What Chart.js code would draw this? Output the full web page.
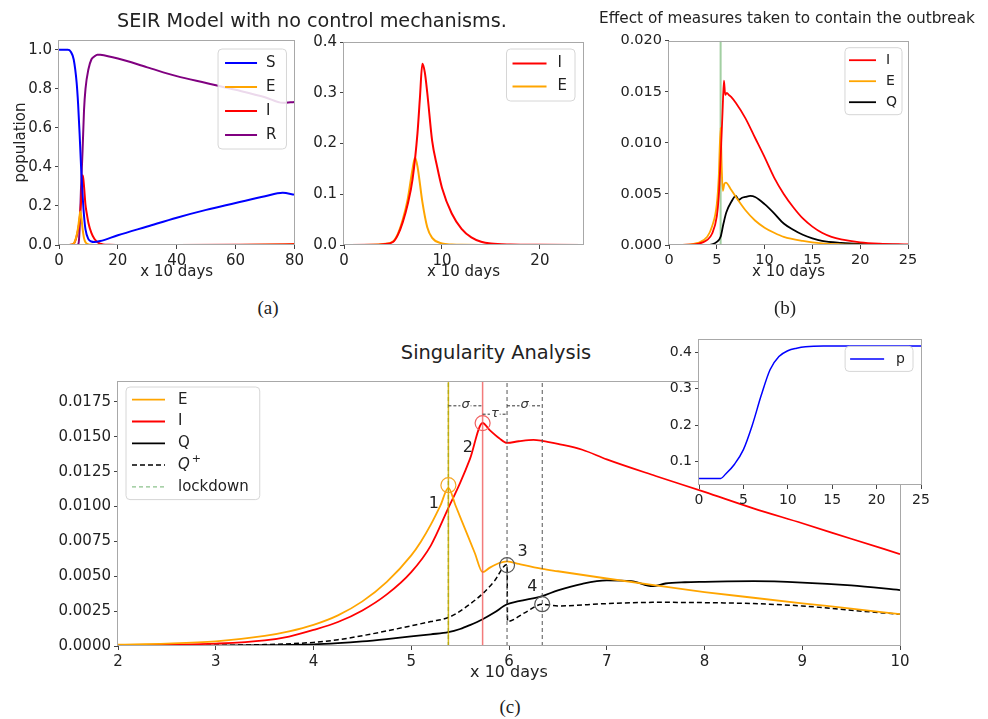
<!DOCTYPE html>
<html>
<head>
<meta charset="utf-8">
<title>SEIR figures</title>
<script src="https://cdn.jsdelivr.net/npm/chart.js@4.4.0/dist/chart.umd.min.js"></script>
<style>
  body { margin: 0; background: #fff; }
  #fig { position: relative; width: 988px; height: 719px; overflow: hidden; font-family: "DejaVu Sans", sans-serif; color: #222; }
  #fig canvas { position: absolute; }
  .txt { position: absolute; transform: translate(-50%, -50%); white-space: nowrap; }
  .cap { font-family: "Liberation Serif", "DejaVu Serif", serif; font-size: 19px; }
</style>
</head>
<body>
<div id="fig">
  <canvas id="cA1"></canvas>
  <canvas id="cA2"></canvas>
  <canvas id="cB"></canvas>
  <canvas id="cC"></canvas>
  <canvas id="cP"></canvas>
  <div class="txt" style="left:312px; top:20px; font-size:19.2px;">SEIR Model with no control mechanisms.</div>
  <div class="txt" style="left:787px; top:18px; font-size:15.3px;">Effect of measures taken to contain the outbreak</div>
  <div class="txt" style="left:496px; top:352px; font-size:19.4px;">Singularity Analysis</div>
  <div class="txt cap" style="left:268px; top:308px;">(a)</div>
  <div class="txt cap" style="left:785px; top:308px;">(b)</div>
  <div class="txt cap" style="left:510px; top:707px;">(c)</div>
</div>
<script>
// ---- (a) SEIR model, no control (x in units of 10 days)
var aS_x = [0, 3, 4, 5, 6, 6.5, 7, 7.5, 8, 8.5, 9, 10, 11, 12, 14, 20, 30, 40, 50, 60, 70, 76, 80];
var aS_y = [1.0, 1.0, 0.99, 0.95, 0.83, 0.72, 0.57, 0.4, 0.26, 0.15, 0.08, 0.03, 0.018, 0.015, 0.02, 0.05, 0.095, 0.14, 0.18, 0.215, 0.25, 0.267, 0.258];
var aR_x = [0, 5, 6, 6.6, 7, 7.5, 8, 8.5, 9, 10, 11, 12, 13, 14, 20, 30, 40, 50, 60, 70, 76, 80];
var aR_y = [0, 0, 0, 0.005, 0.08, 0.3, 0.48, 0.69, 0.8, 0.9, 0.95, 0.965, 0.975, 0.974, 0.955, 0.91, 0.865, 0.83, 0.795, 0.757, 0.728, 0.733];
var aI_x = [0, 3, 4, 5, 5.5, 6, 6.5, 7, 7.5, 7.75, 8, 8.25, 8.5, 9, 9.5, 10, 11, 12, 13, 14, 15, 17, 20, 25, 40, 60, 70, 80];
var aI_y = [0, 0.0003, 0.0015, 0.006, 0.02, 0.045, 0.08, 0.13, 0.22, 0.29, 0.357, 0.34, 0.3, 0.205, 0.155, 0.113, 0.062, 0.032, 0.015, 0.0065, 0.003, 0.001, 0.0003, 0.0001, 0.0002, 0.001, 0.002, 0.005];
var aE_x = [0, 3, 4, 5, 5.5, 6, 6.5, 7, 7.25, 7.5, 8, 8.5, 9, 10, 11, 12, 15, 25, 60, 80];
var aE_y = [0, 0.0004, 0.002, 0.007, 0.022, 0.05, 0.09, 0.15, 0.172, 0.155, 0.085, 0.035, 0.014, 0.003, 0.001, 0.0003, 0, 0, 0.0003, 0.001];

// ---- (b) with containment measures
var bI_x = [0, 2, 3, 4, 4.5, 5, 5.2, 5.4, 5.6, 5.75, 5.88, 6.05, 6.25, 6.5, 7, 8, 9, 10, 11, 12, 13, 14, 15, 16, 17, 18, 20, 22, 25];
var bI_y = [0, 0.00003, 0.0001, 0.0005, 0.0011, 0.0028, 0.0047, 0.0085, 0.013, 0.0161, 0.0147, 0.0149, 0.0147, 0.0145, 0.0139, 0.0124, 0.0105, 0.0086, 0.0066, 0.005, 0.0037, 0.0026, 0.0018, 0.0012, 0.0008, 0.00055, 0.00026, 0.00013, 0.00005];
var bE_x = [0, 2, 3, 4, 4.5, 5, 5.2, 5.4, 5.52, 5.63, 5.8, 5.95, 6.5, 7, 8, 9, 10, 11, 12, 14, 16, 18, 20, 25];
var bE_y = [0, 0.00003, 0.0002, 0.0008, 0.0018, 0.004, 0.0066, 0.0115, 0.0075, 0.0053, 0.006, 0.0061, 0.0054, 0.0047, 0.0034, 0.0024, 0.0017, 0.0012, 0.0008, 0.0004, 0.00016, 0.00007, 0.00003, 0];
var bQ_x = [0, 4, 4.5, 5, 5.4, 5.7, 6, 6.5, 7, 7.3, 7.6, 8, 8.5, 9, 10, 11, 12, 13, 14, 15, 16, 18, 20, 25];
var bQ_y = [0, 0, 0.00006, 0.0003, 0.0008, 0.0021, 0.0032, 0.0042, 0.0048, 0.0044, 0.0046, 0.0047, 0.0048, 0.0047, 0.004, 0.0031, 0.0021, 0.0015, 0.001, 0.00065, 0.0004, 0.0002, 0.0001, 0];
var bLock = 5.4;

// ---- (c) singularity analysis
var cE_x = [2, 2.5, 3, 3.5, 3.75, 4, 4.25, 4.5, 4.75, 5, 5.1, 5.2, 5.3, 5.38, 5.45, 5.55, 5.65, 5.73, 5.8, 5.9, 5.98, 6.1, 6.34, 6.5, 7, 7.5, 8, 8.5, 9, 9.5, 10];
var cE_y = [0.0001, 0.00017, 0.00033, 0.00072, 0.00105, 0.00152, 0.0022, 0.0032, 0.0046, 0.0065, 0.0075, 0.0087, 0.0101, 0.01134, 0.01013, 0.0084, 0.00667, 0.00529, 0.0056, 0.00595, 0.00607, 0.00588, 0.00553, 0.00536, 0.00484, 0.00434, 0.00387, 0.00346, 0.00306, 0.00268, 0.00228];
var cI_x = [2, 2.5, 3, 3.5, 3.75, 4, 4.25, 4.5, 4.75, 5, 5.2, 5.38, 5.5, 5.6, 5.73, 5.8, 5.9, 5.98, 6.1, 6.25, 6.34, 6.5, 6.75, 7, 7.5, 8, 8.5, 9, 9.5, 10];
var cI_y = [0.00005, 0.00009, 0.00017, 0.0004, 0.00068, 0.00115, 0.00172, 0.00255, 0.0037, 0.0053, 0.0072, 0.0099, 0.0117, 0.0134, 0.01599, 0.0155, 0.0149, 0.01456, 0.01468, 0.01478, 0.01471, 0.01449, 0.01407, 0.01338, 0.01219, 0.01105, 0.00987, 0.0088, 0.00769, 0.00659];
var cQ_x = [2, 3, 3.5, 4, 4.25, 4.5, 4.75, 5, 5.2, 5.38, 5.5, 5.6, 5.73, 5.85, 5.98, 6.1, 6.34, 6.5, 6.75, 7, 7.25, 7.47, 7.6, 7.8, 8, 8.5, 9, 9.5, 10];
var cQ_y = [0.00002, 0.00003, 0.00006, 0.00011, 0.0002, 0.00033, 0.0005, 0.00069, 0.00084, 0.00099, 0.00122, 0.0015, 0.00192, 0.0024, 0.00299, 0.00322, 0.00358, 0.00399, 0.00446, 0.0047, 0.00465, 0.00429, 0.00448, 0.00457, 0.0046, 0.00465, 0.00455, 0.00434, 0.00401];
var cQp_x = [2, 3, 3.5, 4, 4.25, 4.5, 4.75, 5, 5.2, 5.38, 5.5, 5.6, 5.73, 5.85, 5.98, 5.985, 6.16, 6.34, 6.5, 7, 7.5, 8, 8.5, 9, 9.5, 10];
var cQp_y = [0.00002, 0.00005, 0.0001, 0.00026, 0.00045, 0.00074, 0.00108, 0.00145, 0.00175, 0.00204, 0.0025, 0.003, 0.00375, 0.00465, 0.00584, 0.00176, 0.00238, 0.00299, 0.00287, 0.00304, 0.00313, 0.00311, 0.00304, 0.00287, 0.00256, 0.00228];
var cLock = 5.38, cRed = 5.73, cDash = [5.98, 6.34];
var cSpans = [[5.38, 5.73, 0.01722, 'σ'], [5.73, 5.98, 0.01662, 'τ'], [5.98, 6.34, 0.01722, 'σ']];
var cRings = [[5.38, 0.01153, '#f5a623'], [5.73, 0.01598, '#f06060'], [5.98, 0.0058, '#555'], [6.34, 0.003, '#555']];
var cNums = [[5.23, 0.0102, '1'], [5.58, 0.01418, '2'], [6.14, 0.00678, '3'], [6.24, 0.00422, '4']];

// ---- inset: p
var pX = [0, 2.44, 3, 4, 5, 6, 7, 8, 9, 10, 11, 12, 14, 25];
var pY = [0.054, 0.054, 0.066, 0.093, 0.133, 0.2, 0.281, 0.352, 0.388, 0.404, 0.411, 0.415, 0.417, 0.417];

// ticks
var aTicksY1 = [0, 0.2, 0.4, 0.6, 0.8, 1.0];
var aTicksX1 = [0, 20, 40, 60, 80];
var aTicksY2 = [0, 0.1, 0.2, 0.3, 0.4];
var aTicksX2 = [0, 10, 20];
var bTicksY = [0, 0.005, 0.01, 0.015, 0.02];
var bTicksX = [0, 5, 10, 15, 20, 25];
var cTicksY = [0, 0.0025, 0.005, 0.0075, 0.01, 0.0125, 0.015, 0.0175];
var cTicksX = [2, 3, 4, 5, 6, 7, 8, 9, 10];
var pTicksY = [0.1, 0.2, 0.3, 0.4];
var pTicksX = [0, 5, 10, 15, 20, 25];

Chart.defaults.font.family = '"DejaVu Sans", sans-serif';
Chart.defaults.color = '#222';

function pts(xs, ys) {
  return xs.map(function (x, i) { return {x: x, y: ys[i]}; });
}

function line(label, xs, ys, color, w, extra) {
  return Object.assign({
    label: label, data: pts(xs, ys), borderColor: color, backgroundColor: color,
    borderWidth: w, pointRadius: 0, fill: false, cubicInterpolationMode: 'monotone'
  }, extra || {});
}

// vertical marker line, not shown in legend
function vline(x, y0, y1, color, w, extra) {
  return Object.assign({
    label: '', data: [{x: x, y: y0}, {x: x, y: y1}], borderColor: color,
    borderWidth: w, pointRadius: 0, fill: false, tension: 0, noLegend: true
  }, extra || {});
}

// white plot background (inset) and grey frame
var framePlugin = {
  id: 'frame',
  beforeDraw: function (chart, args, o) {
    if (!o.fill) return;
    var a = chart.chartArea, ctx = chart.ctx;
    ctx.save();
    ctx.fillStyle = '#fff';
    ctx.fillRect(a.left, a.top, a.right - a.left, a.bottom - a.top);
    ctx.restore();
  },
  afterDatasetsDraw: function (chart) {
    var a = chart.chartArea, ctx = chart.ctx;
    ctx.save();
    ctx.strokeStyle = '#a8a8a8';
    ctx.lineWidth = 1;
    ctx.strokeRect(Math.round(a.left) - 0.5, Math.round(a.top) + 0.5, Math.round(a.right - a.left) + 1, Math.round(a.bottom - a.top) - 1);
    ctx.restore();
  }
};

// matplotlib-like legend box inside the axes
var legendPlugin = {
  id: 'boxLegend',
  afterDraw: function (chart, args, o) {
    if (!o.show) return;
    var ctx = chart.ctx, a = chart.chartArea;
    var items = chart.data.datasets.filter(function (d) { return !d.noLegend; });
    ctx.save();
    ctx.font = o.fs + 'px "DejaVu Sans"';
    var tw = 0;
    items.forEach(function (d) { tw = Math.max(tw, ctx.measureText(d.label).width); });
    var w = o.padL + o.sample + o.gap + tw + o.padR;
    var h = o.padT * 2 + items.length * o.row;
    var x0 = o.left ? a.left + o.mx : a.right - o.mx - w;
    var y0 = a.top + o.my, r = 4;
    ctx.beginPath();
    ctx.moveTo(x0 + r, y0);
    ctx.arcTo(x0 + w, y0, x0 + w, y0 + h, r);
    ctx.arcTo(x0 + w, y0 + h, x0, y0 + h, r);
    ctx.arcTo(x0, y0 + h, x0, y0, r);
    ctx.arcTo(x0, y0, x0 + w, y0, r);
    ctx.closePath();
    ctx.fillStyle = 'rgba(255,255,255,0.85)';
    ctx.fill();
    ctx.strokeStyle = '#d6d6d6';
    ctx.lineWidth = 1;
    ctx.stroke();
    items.forEach(function (d, i) {
      var cy = y0 + o.padT + o.row * (i + 0.5);
      var lx = x0 + o.padL;
      ctx.strokeStyle = d.legendColor || d.borderColor;
      ctx.lineWidth = d.borderWidth;
      ctx.setLineDash(d.borderDash || []);
      ctx.beginPath();
      ctx.moveTo(lx, cy);
      ctx.lineTo(lx + o.sample, cy);
      ctx.stroke();
      ctx.setLineDash([]);
      ctx.fillStyle = '#222';
      ctx.textBaseline = 'middle';
      var tx = lx + o.sample + o.gap;
      if (d.label === 'Q+') {
        ctx.font = 'italic ' + o.fs + 'px "DejaVu Sans"';
        ctx.fillText('Q', tx, cy);
        var qw = ctx.measureText('Q').width;
        ctx.font = Math.round(o.fs * 0.7) + 'px "DejaVu Sans"';
        ctx.fillText('+', tx + qw + 2, cy - 6);
        ctx.font = o.fs + 'px "DejaVu Sans"';
      } else {
        ctx.fillText(d.label, tx, cy);
      }
    });
    ctx.restore();
  }
};

// sigma / tau spans, rings and numbers of panel (c)
var annotPlugin = {
  id: 'annot',
  afterDatasetsDraw: function (chart) {
    var xs = chart.scales.x, ys = chart.scales.y, ctx = chart.ctx;
    ctx.save();
    cSpans.forEach(function (s) {
      var x0 = xs.getPixelForValue(s[0]), x1 = xs.getPixelForValue(s[1]), y = ys.getPixelForValue(s[2]);
      ctx.strokeStyle = '#333';
      ctx.lineWidth = 1;
      ctx.setLineDash([3, 2]);
      ctx.beginPath();
      ctx.moveTo(x0, y);
      ctx.lineTo(x1, y);
      ctx.stroke();
      ctx.setLineDash([]);
      ctx.font = 'italic 13px "DejaVu Sans"';
      var tw = ctx.measureText(s[3]).width, mx = (x0 + x1) / 2;
      ctx.fillStyle = '#fff';
      ctx.fillRect(mx - tw / 2 - 1, y - 6, tw + 2, 11);
      ctx.fillStyle = '#333';
      ctx.textAlign = 'center';
      ctx.textBaseline = 'middle';
      ctx.fillText(s[3], mx, y - 1);
    });
    cRings.forEach(function (c) {
      ctx.strokeStyle = c[2];
      ctx.lineWidth = 1.2;
      ctx.beginPath();
      ctx.arc(xs.getPixelForValue(c[0]), ys.getPixelForValue(c[1]), 7.5, 0, Math.PI * 2);
      ctx.stroke();
    });
    ctx.font = '16px "DejaVu Sans"';
    ctx.fillStyle = '#222';
    ctx.textAlign = 'center';
    ctx.textBaseline = 'middle';
    cNums.forEach(function (n) {
      ctx.fillText(n[2], xs.getPixelForValue(n[0]), ys.getPixelForValue(n[1]));
    });
    ctx.restore();
  }
};

function axis(a, horiz, size) {
  return {
    type: 'linear', min: a.min, max: a.max,
    afterBuildTicks: function (s) { s.ticks = a.ticks.map(function (v) { return {value: v}; }); },
    afterFit: function (s) { if (horiz) s.height = size; else s.width = size; },
    grid: {drawOnChartArea: false, drawTicks: true, tickLength: 4, tickColor: '#444'},
    border: {display: false},
    ticks: {
      font: {size: a.fs}, color: '#222', padding: 3, maxRotation: 0, autoSkip: false,
      callback: function (v) { return v.toFixed(a.dec); }
    },
    title: a.title ? {display: true, text: a.title, font: {size: a.tfs}, color: '#222', padding: a.tpad} : {display: false}
  };
}

// box = plot area in page pixels
function panel(id, box, cfg) {
  var cv = document.getElementById(id);
  var pt = cfg.pt, pr = cfg.pr;
  cv.width = box.r - box.l + cfg.yw + pr;
  cv.height = box.b - box.t + pt + cfg.xh;
  cv.style.left = (box.l - cfg.yw) + 'px';
  cv.style.top = (box.t - pt) + 'px';
  return new Chart(cv, {
    type: 'line',
    data: {datasets: cfg.datasets},
    options: {
      responsive: false, animation: false, devicePixelRatio: 1,
      layout: {padding: {top: pt, right: pr, left: 0, bottom: 0}},
      plugins: {
        legend: {display: false}, tooltip: {enabled: false},
        boxLegend: cfg.legend, frame: {fill: !!cfg.fill}
      },
      scales: {x: axis(cfg.x, true, cfg.xh), y: axis(cfg.y, false, cfg.yw)}
    },
    plugins: [framePlugin, legendPlugin].concat(cfg.extra || [])
  });
}

// (a) left
panel('cA1', {l: 59, t: 38, r: 297, b: 245}, {
  yw: 59, xh: 37, pt: 10, pr: 10,
  x: {min: 0, max: 80, ticks: aTicksX1, dec: 0, fs: 15, title: 'x 10 days', tfs: 15, tpad: {top: 0, bottom: 1}},
  y: {min: 0, max: 1.05, ticks: aTicksY1, dec: 1, fs: 15, title: 'population', tfs: 15, tpad: {top: 12, bottom: 0}},
  datasets: [
    line('S', aS_x, aS_y, '#0000ff', 2),
    line('E', aE_x, aE_y, '#ffa500', 2),
    line('I', aI_x, aI_y, '#ff0000', 2),
    line('R', aR_x, aR_y, '#800080', 2)
  ],
  legend: {show: true, fs: 15, row: 24, padT: 2, padL: 7, sample: 32, gap: 9, padR: 10, mx: 8, my: 9}
});

// (a) right
panel('cA2', {l: 344, t: 40, r: 583, b: 245}, {
  yw: 40, xh: 37, pt: 10, pr: 10,
  x: {min: 0, max: 24.4, ticks: aTicksX2, dec: 0, fs: 15, title: 'x 10 days', tfs: 15, tpad: {top: 0, bottom: 1}},
  y: {min: 0, max: 0.4, ticks: aTicksY2, dec: 1, fs: 15},
  datasets: [
    line('I', aI_x, aI_y, '#ff0000', 2),
    line('E', aE_x, aE_y, '#ffa500', 2)
  ],
  legend: {show: true, fs: 15, row: 23, padT: 3, padL: 6, sample: 34, gap: 11, padR: 8, mx: 8, my: 7}
});

// (b)
panel('cB', {l: 669, t: 39, r: 908, b: 245}, {
  yw: 55, xh: 37, pt: 10, pr: 14,
  x: {min: 0, max: 25, ticks: bTicksX, dec: 0, fs: 14.5, title: 'x 10 days', tfs: 15, tpad: {top: 0, bottom: 1}},
  y: {min: 0, max: 0.02, ticks: bTicksY, dec: 3, fs: 14.5},
  datasets: [
    line('I', bI_x, bI_y, '#ff0000', 1.8),
    line('E', bE_x, bE_y, '#ffa500', 1.8),
    line('Q', bQ_x, bQ_y, '#000000', 1.8),
    vline(bLock, 0, 0.02, 'rgba(70,160,70,0.5)', 2)
  ],
  legend: {show: true, fs: 14, row: 21, padT: 2, padL: 4, sample: 27, gap: 10, padR: 5, mx: 6, my: 7}
});

// (c)
var cYmax = 0.019;
panel('cC', {l: 118, t: 379, r: 900, b: 646}, {
  yw: 65, xh: 36, pt: 10, pr: 14,
  x: {min: 2, max: 10, ticks: cTicksX, dec: 0, fs: 15, title: 'x 10 days', tfs: 16, tpad: {top: 0, bottom: 0}},
  y: {min: 0, max: cYmax, ticks: cTicksY, dec: 4, fs: 15},
  datasets: [
    vline(cLock, 0, cYmax, 'rgba(205,170,0,0.85)', 1.5),
    vline(cRed, 0, cYmax, 'rgba(240,90,90,0.8)', 1.5),
    vline(cDash[0], 0, cYmax, '#555', 1, {borderDash: [4, 3]}),
    vline(cDash[1], 0, cYmax, '#555', 1, {borderDash: [4, 3]}),
    line('E', cE_x, cE_y, '#ffa500', 1.8),
    line('I', cI_x, cI_y, '#ff0000', 1.8),
    line('Q', cQ_x, cQ_y, '#000000', 1.8),
    line('Q+', cQp_x, cQp_y, '#000000', 1.5, {borderDash: [5, 3]}),
    line('lockdown', [cLock, cLock], [0, cYmax], '#6aa84f', 1.3, {borderDash: [4, 3], tension: 0, cubicInterpolationMode: 'default', legendColor: '#8cc28c'})
  ],
  legend: {show: true, left: true, fs: 15, row: 21.8, padT: 1.8, padL: 6, sample: 33, gap: 13, padR: 11, mx: 8, my: 6},
  extra: [annotPlugin]
});

// inset p
panel('cP', {l: 699, t: 336, r: 921, b: 485}, {
  yw: 36, xh: 24, pt: 8, pr: 12, fill: true,
  x: {min: 0, max: 25, ticks: pTicksX, dec: 0, fs: 14},
  y: {min: 0.036, max: 0.435, ticks: pTicksY, dec: 1, fs: 14},
  datasets: [line('p', pX, pY, '#0000ff', 1.5)],
  legend: {show: true, fs: 14, row: 21, padT: 2, padL: 5, sample: 34, gap: 12, padR: 8, mx: 8, my: 7}
});
</script>
</body>
</html>
